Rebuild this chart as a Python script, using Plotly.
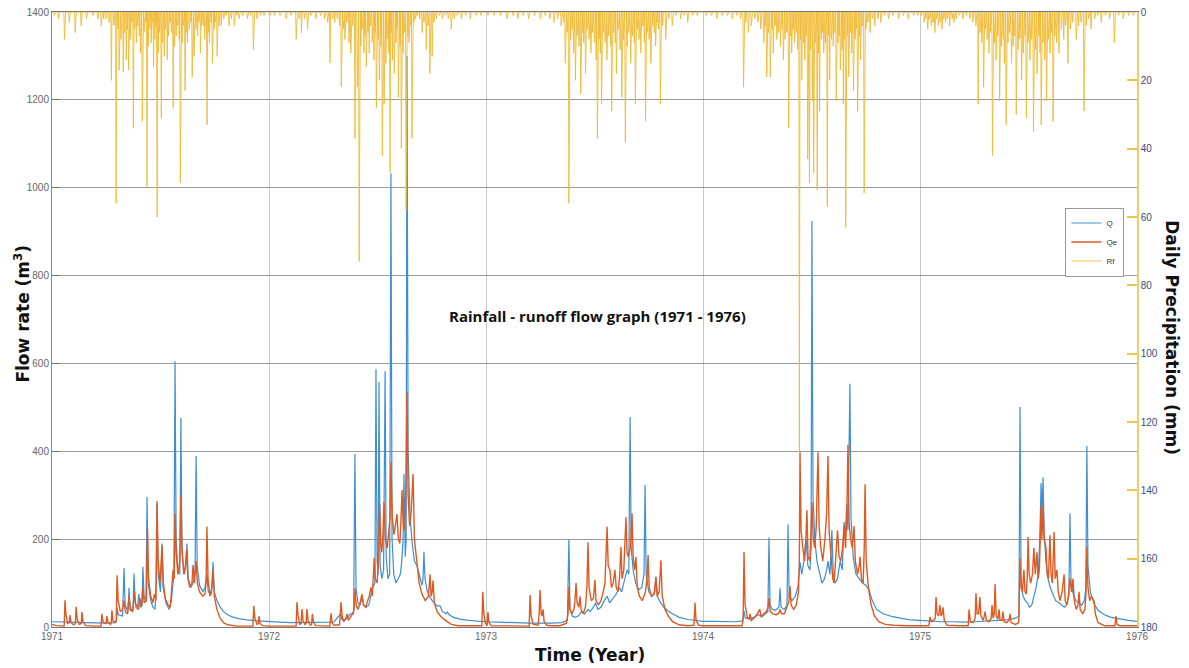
import numpy as np
import plotly.graph_objects as go
from datetime import date

# ---------------- DATA ----------------
years = [1971, 1972, 1973, 1974, 1975, 1976]
flow_ticks = [0, 200, 400, 600, 800, 1000, 1200, 1400]
rain_ticks = [0, 20, 40, 60, 80, 100, 120, 140, 160, 180]

# Observed discharge Q (decimal year, value)
q_points = [
    (1971.000, 12), (1971.05, 12), (1971.10, 11), (1971.15, 10), (1971.20, 9), (1971.25, 9), (1971.29, 10),
    (1971.297, 12), (1971.300, 45), (1971.305, 28), (1971.325, 25), (1971.332, 134), (1971.337, 50),
    (1971.350, 35), (1971.355, 89), (1971.360, 40), (1971.373, 40), (1971.378, 122), (1971.383, 55),
    (1971.395, 45), (1971.400, 75), (1971.407, 45), (1971.415, 50), (1971.419, 137), (1971.424, 70),
    (1971.433, 60), (1971.438, 296), (1971.443, 100), (1971.455, 60), (1971.465, 45), (1971.475, 40),
    (1971.480, 100), (1971.484, 280), (1971.489, 120), (1971.500, 80), (1971.507, 190), (1971.512, 90),
    (1971.525, 55), (1971.540, 40), (1971.550, 60), (1971.556, 90), (1971.562, 120), (1971.567, 605),
    (1971.572, 200), (1971.580, 130), (1971.589, 120), (1971.594, 476), (1971.599, 170), (1971.610, 120),
    (1971.617, 140), (1971.622, 190), (1971.628, 110), (1971.640, 90), (1971.650, 100), (1971.659, 120),
    (1971.664, 389), (1971.669, 140), (1971.680, 95), (1971.695, 80), (1971.705, 90), (1971.714, 120),
    (1971.720, 80), (1971.735, 75), (1971.742, 148), (1971.748, 80), (1971.760, 60), (1971.775, 45),
    (1971.790, 35), (1971.810, 28), (1971.830, 23), (1971.860, 19), (1971.900, 16), (1971.950, 14),
    (1972.000, 12),
    (1972.05, 11), (1972.10, 10), (1972.20, 10), (1972.28, 11), (1972.300, 12), (1972.330, 30),
    (1972.335, 18), (1972.345, 15), (1972.360, 20), (1972.375, 30), (1972.390, 30), (1972.396, 394),
    (1972.401, 90), (1972.410, 55), (1972.420, 50), (1972.430, 70), (1972.437, 50), (1972.448, 45),
    (1972.460, 50), (1972.470, 70), (1972.478, 90), (1972.488, 100), (1972.493, 587), (1972.498, 150),
    (1972.503, 120), (1972.507, 558), (1972.512, 140), (1972.520, 110), (1972.528, 130), (1972.535, 582),
    (1972.540, 160), (1972.548, 110), (1972.556, 120), (1972.562, 1033), (1972.567, 200), (1972.575, 120),
    (1972.585, 100), (1972.595, 110), (1972.605, 120), (1972.612, 150), (1972.618, 200), (1972.622, 348),
    (1972.628, 160), (1972.632, 200), (1972.636, 1300), (1972.641, 400), (1972.650, 250), (1972.660, 190),
    (1972.670, 150), (1972.682, 140), (1972.695, 110), (1972.705, 95), (1972.710, 110), (1972.714, 171),
    (1972.719, 110), (1972.730, 80), (1972.745, 65), (1972.760, 55), (1972.775, 48), (1972.788, 48),
    (1972.800, 35), (1972.815, 30), (1972.822, 34), (1972.830, 28), (1972.850, 22), (1972.880, 18),
    (1972.920, 15), (1972.960, 13), (1973.000, 12),
    (1973.05, 11), (1973.10, 10), (1973.20, 9), (1973.30, 9), (1973.350, 10), (1973.375, 15),
    (1973.382, 200), (1973.387, 40), (1973.398, 25), (1973.410, 22), (1973.425, 25), (1973.440, 35),
    (1973.455, 30), (1973.470, 40), (1973.480, 35), (1973.495, 45), (1973.505, 55), (1973.515, 40),
    (1973.530, 45), (1973.545, 60), (1973.558, 70), (1973.570, 55), (1973.585, 65), (1973.600, 75),
    (1973.615, 90), (1973.625, 80), (1973.640, 110), (1973.650, 130), (1973.658, 120), (1973.664, 478),
    (1973.669, 180), (1973.678, 130), (1973.690, 100), (1973.705, 85), (1973.718, 90), (1973.728, 120),
    (1973.733, 323), (1973.738, 120), (1973.750, 80), (1973.765, 70), (1973.778, 80), (1973.783, 114),
    (1973.790, 70), (1973.805, 55), (1973.820, 45), (1973.840, 36), (1973.860, 30), (1973.890, 22),
    (1973.930, 17), (1973.970, 14), (1974.000, 13),
    (1974.05, 13), (1974.10, 12), (1974.15, 12), (1974.183, 14), (1974.189, 36), (1974.195, 20),
    (1974.215, 20), (1974.235, 22), (1974.255, 28), (1974.275, 25), (1974.290, 30), (1974.299, 35),
    (1974.304, 204), (1974.309, 50), (1974.320, 40), (1974.335, 38), (1974.350, 45), (1974.355, 88),
    (1974.360, 45), (1974.375, 40), (1974.387, 50), (1974.392, 234), (1974.397, 70), (1974.410, 60),
    (1974.425, 70), (1974.437, 90), (1974.447, 148), (1974.455, 120), (1974.465, 150), (1974.475, 200),
    (1974.483, 140), (1974.493, 130), (1974.498, 180), (1974.502, 924), (1974.507, 300), (1974.515, 200),
    (1974.525, 150), (1974.535, 130), (1974.548, 100), (1974.560, 110), (1974.570, 130), (1974.576, 150),
    (1974.585, 120), (1974.594, 220), (1974.600, 120), (1974.608, 100), (1974.620, 110), (1974.632, 150),
    (1974.642, 130), (1974.650, 239), (1974.656, 200), (1974.662, 280), (1974.668, 220), (1974.677, 554),
    (1974.682, 250), (1974.692, 160), (1974.705, 120), (1974.720, 110), (1974.735, 100), (1974.750, 95),
    (1974.765, 84), (1974.780, 60), (1974.800, 40), (1974.830, 30), (1974.870, 24), (1974.920, 19),
    (1974.960, 16), (1975.000, 15),
    (1975.05, 13), (1975.10, 12), (1975.15, 12), (1975.20, 11), (1975.25, 12), (1975.30, 13),
    (1975.35, 14), (1975.40, 16), (1975.440, 20), (1975.456, 25), (1975.461, 501), (1975.466, 100),
    (1975.475, 70), (1975.485, 60), (1975.495, 55), (1975.505, 45), (1975.515, 50), (1975.525, 70),
    (1975.535, 90), (1975.545, 120), (1975.552, 200), (1975.558, 328), (1975.562, 250), (1975.567, 341),
    (1975.572, 220), (1975.580, 150), (1975.590, 110), (1975.600, 90), (1975.612, 75), (1975.625, 60),
    (1975.640, 55), (1975.655, 50), (1975.665, 45), (1975.675, 50), (1975.686, 70), (1975.691, 259),
    (1975.696, 100), (1975.706, 75), (1975.718, 60), (1975.730, 55), (1975.745, 50), (1975.758, 60),
    (1975.764, 90), (1975.769, 412), (1975.774, 140), (1975.785, 80), (1975.800, 55), (1975.820, 38),
    (1975.850, 28), (1975.880, 22), (1975.920, 18), (1975.960, 15), (1976.000, 13),
]

# Estimated discharge Qe (decimal year, value)
qe_points = [
    (1971.000, 6), (1971.02, 3), (1971.056, 2), (1971.060, 61), (1971.064, 30), (1971.072, 8),
    (1971.080, 10), (1971.083, 27), (1971.088, 10), (1971.100, 5), (1971.108, 8), (1971.111, 46),
    (1971.116, 18), (1971.125, 6), (1971.135, 8), (1971.138, 34), (1971.143, 12), (1971.155, 3),
    (1971.20, 2), (1971.226, 2), (1971.230, 30), (1971.235, 12), (1971.245, 8), (1971.250, 10),
    (1971.253, 25), (1971.258, 10), (1971.270, 6), (1971.273, 10), (1971.276, 38), (1971.281, 14),
    (1971.292, 10), (1971.296, 15), (1971.300, 118), (1971.305, 60), (1971.315, 35), (1971.325, 40),
    (1971.332, 60), (1971.338, 35), (1971.348, 30), (1971.355, 70), (1971.362, 38), (1971.372, 35),
    (1971.380, 80), (1971.387, 45), (1971.398, 40), (1971.405, 65), (1971.412, 45), (1971.419, 90),
    (1971.425, 55), (1971.435, 60), (1971.440, 225), (1971.445, 110), (1971.455, 70), (1971.465, 55),
    (1971.472, 75), (1971.479, 60), (1971.484, 287), (1971.489, 150), (1971.498, 100), (1971.507, 185),
    (1971.513, 100), (1971.522, 65), (1971.535, 50), (1971.545, 45), (1971.552, 90), (1971.558, 130),
    (1971.563, 110), (1971.567, 259), (1971.572, 170), (1971.580, 120), (1971.589, 150), (1971.594, 300),
    (1971.599, 180), (1971.607, 120), (1971.615, 140), (1971.620, 175), (1971.626, 110), (1971.635, 90),
    (1971.645, 100), (1971.650, 141), (1971.656, 100), (1971.664, 150), (1971.670, 100), (1971.680, 80),
    (1971.695, 70), (1971.705, 75), (1971.710, 100), (1971.714, 228), (1971.719, 110), (1971.728, 70),
    (1971.737, 90), (1971.742, 130), (1971.748, 70), (1971.760, 40), (1971.775, 20), (1971.790, 10),
    (1971.810, 5), (1971.850, 2), (1971.926, 2), (1971.930, 48), (1971.935, 20), (1971.945, 6),
    (1971.951, 8), (1971.954, 25), (1971.959, 8), (1971.970, 3), (1972.000, 2),
    (1972.05, 2), (1972.125, 2), (1972.129, 57), (1972.134, 25), (1972.142, 6), (1972.148, 8),
    (1972.152, 41), (1972.157, 15), (1972.165, 6), (1972.171, 8), (1972.175, 41), (1972.180, 14),
    (1972.190, 4), (1972.196, 5), (1972.200, 30), (1972.205, 10), (1972.215, 3), (1972.280, 2),
    (1972.286, 31), (1972.291, 10), (1972.300, 4), (1972.325, 5), (1972.332, 57), (1972.337, 25),
    (1972.345, 12), (1972.355, 20), (1972.360, 30), (1972.366, 15), (1972.375, 22), (1972.385, 30),
    (1972.392, 40), (1972.396, 88), (1972.402, 50), (1972.410, 40), (1972.420, 55), (1972.428, 75),
    (1972.435, 50), (1972.445, 45), (1972.455, 60), (1972.462, 70), (1972.470, 90), (1972.476, 70),
    (1972.485, 157), (1972.490, 110), (1972.498, 100), (1972.505, 150), (1972.510, 280), (1972.515, 190),
    (1972.520, 170), (1972.525, 210), (1972.530, 285), (1972.536, 200), (1972.545, 180), (1972.552, 220),
    (1972.558, 250), (1972.562, 376), (1972.568, 250), (1972.576, 210), (1972.583, 230), (1972.590, 257),
    (1972.596, 200), (1972.603, 190), (1972.608, 240), (1972.613, 312), (1972.619, 230), (1972.625, 220),
    (1972.630, 280), (1972.636, 535), (1972.641, 300), (1972.648, 230), (1972.655, 260), (1972.664, 348),
    (1972.670, 200), (1972.682, 150), (1972.692, 100), (1972.705, 75), (1972.720, 60), (1972.735, 70),
    (1972.742, 120), (1972.747, 70), (1972.752, 80), (1972.756, 106), (1972.762, 55), (1972.775, 35),
    (1972.790, 25), (1972.805, 18), (1972.820, 12), (1972.840, 6), (1972.870, 3), (1972.950, 2),
    (1972.981, 3), (1972.985, 80), (1972.990, 30), (1972.998, 8),
    (1973.005, 3), (1973.009, 34), (1973.014, 10), (1973.025, 3), (1973.100, 2), (1973.199, 2),
    (1973.203, 73), (1973.208, 25), (1973.218, 6), (1973.240, 4), (1973.245, 30), (1973.249, 84),
    (1973.254, 30), (1973.258, 25), (1973.263, 40), (1973.268, 12), (1973.280, 4), (1973.300, 3),
    (1973.340, 3), (1973.370, 8), (1973.378, 30), (1973.382, 91), (1973.387, 40), (1973.395, 30),
    (1973.405, 40), (1973.410, 60), (1973.415, 100), (1973.420, 55), (1973.428, 45), (1973.433, 70),
    (1973.438, 40), (1973.448, 30), (1973.458, 45), (1973.465, 90), (1973.470, 193), (1973.475, 90),
    (1973.485, 60), (1973.495, 65), (1973.502, 107), (1973.507, 60), (1973.518, 50), (1973.530, 60),
    (1973.540, 80), (1973.548, 100), (1973.558, 228), (1973.563, 140), (1973.571, 130), (1973.578, 90),
    (1973.586, 100), (1973.594, 130), (1973.600, 90), (1973.608, 80), (1973.615, 110), (1973.622, 182),
    (1973.627, 110), (1973.635, 130), (1973.645, 250), (1973.650, 170), (1973.656, 160), (1973.665, 180),
    (1973.673, 259), (1973.678, 160), (1973.685, 130), (1973.691, 159), (1973.697, 90), (1973.707, 70),
    (1973.720, 60), (1973.735, 80), (1973.742, 110), (1973.747, 164), (1973.752, 90), (1973.762, 70),
    (1973.775, 75), (1973.783, 114), (1973.789, 70), (1973.798, 80), (1973.806, 152), (1973.812, 70),
    (1973.825, 40), (1973.840, 25), (1973.860, 12), (1973.890, 5), (1973.930, 3), (1973.958, 4),
    (1973.963, 55), (1973.968, 15), (1973.980, 4), (1974.000, 3),
    (1974.05, 3), (1974.180, 3), (1974.185, 20), (1974.189, 171), (1974.194, 50), (1974.205, 20),
    (1974.213, 18), (1974.217, 30), (1974.222, 15), (1974.235, 20), (1974.250, 30), (1974.262, 40),
    (1974.268, 22), (1974.280, 30), (1974.292, 35), (1974.300, 45), (1974.304, 66), (1974.310, 35),
    (1974.322, 30), (1974.338, 28), (1974.350, 32), (1974.355, 40), (1974.362, 30), (1974.375, 30),
    (1974.390, 50), (1974.396, 60), (1974.401, 93), (1974.406, 50), (1974.418, 40), (1974.430, 50),
    (1974.440, 80), (1974.444, 150), (1974.447, 398), (1974.452, 220), (1974.460, 180), (1974.468, 150),
    (1974.474, 200), (1974.479, 266), (1974.484, 160), (1974.492, 150), (1974.497, 200), (1974.502, 284),
    (1974.508, 200), (1974.515, 180), (1974.522, 230), (1974.526, 300), (1974.530, 398), (1974.535, 230),
    (1974.543, 180), (1974.552, 150), (1974.562, 200), (1974.570, 260), (1974.576, 389), (1974.581, 220),
    (1974.590, 150), (1974.598, 110), (1974.604, 100), (1974.612, 150), (1974.620, 220), (1974.627, 160),
    (1974.635, 150), (1974.643, 180), (1974.650, 230), (1974.657, 180), (1974.663, 260), (1974.668, 415),
    (1974.673, 240), (1974.680, 200), (1974.688, 180), (1974.696, 230), (1974.702, 150), (1974.712, 120),
    (1974.720, 140), (1974.724, 160), (1974.730, 110), (1974.738, 100), (1974.743, 180), (1974.747, 325),
    (1974.752, 150), (1974.762, 90), (1974.775, 50), (1974.790, 25), (1974.810, 12), (1974.840, 6),
    (1974.880, 4), (1974.940, 3), (1975.000, 3),
    (1975.040, 3), (1975.043, 10), (1975.046, 23), (1975.052, 12), (1975.062, 15), (1975.070, 20),
    (1975.074, 68), (1975.079, 30), (1975.086, 25), (1975.092, 50), (1975.097, 25), (1975.102, 30),
    (1975.106, 45), (1975.112, 15), (1975.125, 4), (1975.180, 3), (1975.222, 3), (1975.226, 40),
    (1975.232, 12), (1975.245, 10), (1975.254, 20), (1975.258, 77), (1975.263, 30), (1975.270, 30),
    (1975.276, 68), (1975.281, 25), (1975.292, 15), (1975.300, 35), (1975.306, 15), (1975.318, 12),
    (1975.328, 20), (1975.332, 50), (1975.337, 20), (1975.342, 30), (1975.346, 98), (1975.351, 25),
    (1975.359, 18), (1975.364, 40), (1975.369, 15), (1975.378, 15), (1975.382, 35), (1975.388, 12),
    (1975.400, 10), (1975.410, 15), (1975.415, 30), (1975.420, 10), (1975.440, 6), (1975.455, 10),
    (1975.461, 157), (1975.466, 90), (1975.472, 80), (1975.479, 130), (1975.484, 80), (1975.490, 75),
    (1975.494, 110), (1975.498, 205), (1975.503, 120), (1975.510, 100), (1975.518, 120), (1975.525, 180),
    (1975.531, 120), (1975.539, 170), (1975.544, 110), (1975.550, 130), (1975.555, 200), (1975.558, 273),
    (1975.562, 200), (1975.567, 280), (1975.572, 200), (1975.581, 180), (1975.586, 120), (1975.592, 110),
    (1975.599, 209), (1975.604, 120), (1975.610, 100), (1975.614, 150), (1975.618, 216), (1975.623, 110),
    (1975.631, 130), (1975.637, 80), (1975.645, 60), (1975.655, 80), (1975.664, 120), (1975.669, 60),
    (1975.677, 50), (1975.684, 70), (1975.691, 111), (1975.698, 80), (1975.705, 110), (1975.711, 60),
    (1975.720, 40), (1975.728, 50), (1975.733, 80), (1975.738, 40), (1975.750, 30), (1975.760, 40),
    (1975.765, 80), (1975.769, 182), (1975.774, 90), (1975.782, 60), (1975.790, 70), (1975.802, 60),
    (1975.808, 30), (1975.820, 10), (1975.850, 3), (1975.898, 3), (1975.903, 25), (1975.908, 6),
    (1975.920, 3), (1976.000, 3),
]

# Daily rainfall events: (day of year, mm); all other days are dry (0 mm)
rain_1971 = [
    (5, 1), (12, 2), (22, 8), (30, 3), (40, 6), (50, 4), (59, 2), (70, 1), (78, 2), (84, 4), (88, 2),
    (92, 2), (97, 3), (101, 20), (105, 4), (109, 56), (112, 5), (114, 17), (117, 8), (121, 17.5),
    (123, 6), (126, 14), (128, 5), (130, 17), (133, 8), (135, 3), (138, 34), (140, 5), (143, 9),
    (145, 4), (148, 7), (150, 12), (153, 32), (156, 6), (159, 3), (161, 51), (163, 10), (166, 5),
    (168, 9), (170, 3), (172, 16), (174, 8), (176, 4), (178, 60), (180, 12), (182, 6), (185, 31),
    (187, 9), (190, 13), (192, 5), (195, 14), (197, 7), (200, 3), (202, 6), (205, 28), (207, 10),
    (210, 7), (212, 4), (215, 8), (217, 50), (220, 9), (222, 4), (225, 23), (227, 6), (229, 9),
    (232, 5), (235, 3), (237, 19), (240, 13), (243, 5), (246, 7), (248, 3), (251, 12), (253, 4),
    (256, 4), (258, 8), (262, 33), (264, 6), (266, 9), (269, 3), (271, 15), (274, 5), (276, 3),
    (279, 13), (282, 4), (286, 4), (290, 2), (294, 1), (299, 4), (303, 2), (308, 4), (312, 1),
    (316, 2), (322, 1), (330, 2), (335, 1), (340, 11), (346, 2), (352, 1), (358, 1),
]
rain_1972 = [
    (3, 1), (10, 1), (20, 1), (30, 2), (38, 1), (47, 8), (52, 2), (56, 6), (61, 2), (66, 5), (72, 1),
    (80, 2), (88, 1), (95, 2), (100, 3), (104, 15), (108, 2), (112, 3), (116, 2), (120, 4), (123, 22),
    (126, 5), (129, 8), (132, 3), (136, 9), (139, 12), (142, 4), (146, 37), (150, 22), (153, 73),
    (156, 10), (158, 5), (161, 12), (163, 7), (165, 16), (168, 6), (170, 12), (172, 4), (175, 9),
    (178, 14), (180, 6), (182, 28), (185, 8), (187, 20), (190, 10), (192, 42), (195, 27), (198, 15),
    (200, 8), (203, 12), (205, 47), (207, 6), (209, 14), (212, 18), (215, 9), (217, 5), (219, 25),
    (222, 10), (224, 40), (227, 12), (229, 6), (232, 58), (235, 7), (237, 9), (240, 4), (242, 37),
    (245, 3), (248, 2), (251, 1), (255, 2), (259, 6), (262, 3), (266, 11), (269, 4), (272, 18),
    (276, 13), (279, 3), (283, 2), (288, 1), (293, 2), (298, 1), (303, 2), (308, 5), (313, 2),
    (318, 1), (325, 2), (332, 1), (340, 2), (350, 1), (358, 1),
]
rain_1973 = [
    (4, 1), (14, 1), (25, 1), (36, 2), (46, 1), (54, 2), (63, 1), (72, 2), (82, 1), (92, 2), (100, 1),
    (108, 2), (115, 3), (121, 2), (127, 4), (131, 3), (134, 15), (137, 6), (140, 56), (143, 8),
    (146, 5), (148, 12), (151, 20), (154, 7), (157, 10), (160, 24), (163, 6), (165, 9), (168, 18),
    (171, 5), (174, 8), (177, 12), (180, 6), (183, 9), (186, 14), (188, 37), (191, 8), (193, 12),
    (195, 27), (198, 6), (201, 9), (204, 14), (207, 7), (210, 10), (212, 29), (215, 6), (218, 9),
    (220, 18), (223, 5), (226, 11), (229, 25), (232, 8), (235, 38), (238, 10), (241, 6), (244, 15),
    (247, 7), (250, 9), (252, 27), (255, 5), (258, 8), (261, 12), (264, 4), (267, 9), (269, 32),
    (272, 6), (275, 8), (278, 15), (281, 4), (284, 6), (286, 10), (289, 3), (291, 5), (294, 27),
    (298, 4), (303, 8), (308, 2), (314, 4), (320, 1), (328, 2), (334, 1), (340, 3), (348, 1), (356, 1),
]
rain_1974 = [
    (6, 1), (15, 1), (24, 2), (33, 1), (42, 1), (50, 2), (58, 1), (64, 2), (69, 22), (73, 3), (77, 6),
    (82, 4), (88, 2), (93, 3), (98, 5), (103, 9), (106, 4), (108, 19), (111, 6), (114, 19), (117, 5),
    (119, 12), (122, 4), (125, 8), (128, 6), (131, 10), (134, 5), (136, 14), (139, 8), (142, 6),
    (145, 34), (148, 7), (150, 12), (153, 5), (155, 9), (158, 6), (160, 11), (163, 129), (165, 8),
    (167, 20), (170, 9), (172, 14), (175, 7), (177, 43), (180, 50), (182, 11), (185, 26), (187, 47),
    (190, 9), (193, 52), (195, 12), (197, 29), (200, 8), (202, 6), (204, 12), (207, 9), (210, 57),
    (212, 7), (214, 20), (217, 8), (220, 10), (222, 6), (225, 26), (228, 9), (230, 7), (232, 17),
    (235, 11), (237, 27), (239, 8), (241, 63), (244, 7), (246, 19), (249, 6), (251, 12), (254, 23),
    (257, 8), (259, 5), (261, 29), (264, 7), (266, 14), (269, 4), (272, 53), (275, 5), (278, 3),
    (282, 6), (286, 2), (290, 4), (295, 2), (300, 3), (306, 1), (313, 2), (320, 1), (330, 2),
    (338, 1), (346, 2), (355, 1), (362, 1),
]
rain_1975 = [
    (3, 1), (8, 3), (11, 2), (14, 5), (17, 2), (20, 4), (23, 3), (26, 6), (29, 2), (32, 4), (35, 3),
    (38, 5), (41, 2), (44, 3), (47, 2), (51, 4), (55, 2), (58, 3), (62, 2), (67, 1), (73, 2), (79, 1),
    (85, 2), (90, 3), (95, 4), (99, 27), (102, 6), (105, 9), (108, 22), (111, 5), (114, 8), (117, 12),
    (120, 6), (123, 42), (126, 9), (129, 14), (132, 7), (135, 26), (138, 10), (141, 8), (143, 15),
    (146, 33), (149, 9), (152, 6), (155, 15), (158, 10), (160, 7), (163, 30), (166, 11), (169, 8),
    (172, 20), (175, 12), (178, 7), (180, 31), (183, 9), (186, 14), (189, 8), (192, 35), (195, 11),
    (198, 18), (201, 7), (203, 12), (205, 33), (208, 9), (211, 14), (214, 26), (217, 8), (220, 12),
    (222, 6), (225, 32), (228, 7), (231, 9), (235, 12), (239, 5), (243, 8), (246, 4), (250, 15),
    (254, 5), (258, 3), (264, 8), (268, 4), (272, 3), (277, 29), (281, 4), (285, 2), (289, 5),
    (295, 2), (300, 1), (306, 3), (313, 1), (320, 2), (328, 9), (335, 1), (343, 2), (352, 1), (360, 1),
]
rain_by_year = {1971: rain_1971, 1972: rain_1972, 1973: rain_1973, 1974: rain_1974, 1975: rain_1975}

# ---------------- BUILD SERIES ----------------
q_x = [p[0] for p in q_points]
q_y = [p[1] for p in q_points]
qe_x = [p[0] for p in qe_points]
qe_y = [p[1] for p in qe_points]

start = date(1971, 1, 1)
n_days = (date(1976, 1, 1) - start).days
rf = np.zeros(n_days)
for yr, events in rain_by_year.items():
    base = (date(yr, 1, 1) - start).days
    for d, v in events:
        rf[base + d - 1] = v
rf_x = 1971 + np.arange(n_days) / 365.25

C_Q = "#3E8FD2"
C_QE = "#DD5A22"
C_RF = "#EFBA35"

fig = go.Figure()
fig.add_trace(go.Scatter(x=q_x, y=q_y, mode="lines", name="Q",
                         line=dict(color=C_Q, width=1.2)))
fig.add_trace(go.Scatter(x=qe_x, y=qe_y, mode="lines", name="Qe",
                         line=dict(color=C_QE, width=1.4)))
fig.add_trace(go.Scatter(x=rf_x, y=rf, mode="lines", name="Rf", yaxis="y2",
                         line=dict(color=C_RF, width=0.9)))

tick_font = dict(family="Liberation Sans, Arial", size=10, color="#666666")
title_font = dict(family="DejaVu Sans", size=17, color="#111111")

# The page body adds an 8 px offset, so the figure is 8 px smaller on each side.
fig.update_layout(
    width=1181, height=660,
    margin=dict(l=44, r=52, t=4, b=41, autoexpand=False),
    paper_bgcolor="white", plot_bgcolor="white",
    showlegend=True,
    legend=dict(x=0.934, y=0.626, xanchor="left", yanchor="middle",
                bgcolor="white", bordercolor="#999999", borderwidth=1,
                font=dict(family="Liberation Sans, Arial", size=8, color="#333333"),
                tracegroupgap=0, itemwidth=30),
    xaxis=dict(range=[1971, 1976], tickvals=years, ticktext=[str(y) for y in years],
               showgrid=True, gridcolor="#C8C8C8", gridwidth=1,
               showline=True, linecolor="#777777", linewidth=1, mirror=True,
               ticks="", tickfont=tick_font, zeroline=False, automargin=False,
               ticklabeloverflow="allow"),
    yaxis=dict(range=[0, 1400], tickvals=flow_ticks,
               showgrid=True, gridcolor="#9A9A9A", gridwidth=1,
               showline=True, linecolor="#888888", linewidth=1,
               ticks="inside", ticklen=8, tickcolor="#777777",
               tickfont=tick_font, zeroline=False, automargin=False,
               ticklabeloverflow="allow"),
    yaxis2=dict(range=[180, 0], tickvals=rain_ticks, overlaying="y", side="right",
                showgrid=False, showline=True, linecolor="#F2CC6A", linewidth=1.5,
                ticks="inside", ticklen=10, tickcolor="#F2C250", tickwidth=1.5,
                tickfont=dict(family="Liberation Sans, Arial", size=10, color="#3A4A82"),
                zeroline=False, automargin=False, ticklabeloverflow="allow"),
    annotations=[
        dict(text="<b>Rainfall - runoff flow graph (1971 - 1976)</b>",
             x=0.503, y=0.506, xref="paper", yref="paper", showarrow=False,
             font=dict(family="Open Sans, Lato", size=15, color="#111111")),
        dict(text="<b>Time (Year)</b>", x=0.496, y=-0.046, xref="paper", yref="paper",
             xanchor="center", yanchor="middle", showarrow=False, font=title_font),
        dict(text="<b>Flow rate (m<sup>3</sup>)</b>", x=-0.028, y=0.509, xref="paper", yref="paper",
             xanchor="center", yanchor="middle", textangle=-90, showarrow=False, font=title_font),
        dict(text="<b>Daily Precipitation (mm)</b>", x=1.032, y=0.47, xref="paper", yref="paper",
             xanchor="center", yanchor="middle", textangle=90, showarrow=False, font=title_font),
    ],
)

fig.write_html("out.html")
